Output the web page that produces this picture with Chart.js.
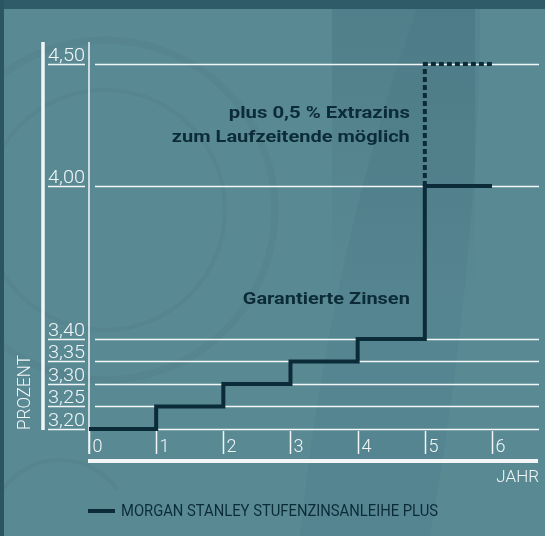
<!DOCTYPE html>
<html>
<head>
<meta charset="utf-8">
<script src="https://cdn.jsdelivr.net/npm/chart.js@4/dist/chart.umd.min.js"></script>
<style>
  html, body { margin: 0; padding: 0; background: #598a94; }
  #wrap { width: 545px; height: 536px; position: relative; }
</style>
</head>
<body>
<div id="wrap"><canvas id="myChart"></canvas></div>
<script>
// data
const years = [0, 1, 2, 3, 4, 5, 6];
const guaranteed = [3.20, 3.25, 3.30, 3.35, 3.40, 4.00, 4.00];
const extraYears = [5, 6];
const extraRate = [4.00, 4.50];
const yTicks = [3.20, 3.25, 3.30, 3.35, 3.40, 4.00, 4.50];
const yTickLabels = ["3,20", "3,25", "3,30", "3,35", "3,40", "4,00", "4,50"];
const xTickLabels = ["0", "1", "2", "3", "4", "5", "6"];
const seriesName = "MORGAN STANLEY STUFENZINSANLEIHE PLUS";

const DARK = "#0c2b39";
const WHITE = "#f2f6f7";

// the original axis is broken: small steps below 3,40 are stretched
function warp(v) {
  if (v <= 3.4) return (v - 3.2) / 0.05;
  if (v <= 4.0) return 4 + (v - 3.4) / 0.6 * 6.8;
  return 10.8 + (v - 4.0) / 0.5 * 5.42;
}

// draw text squeezed/stretched to a given width
function fitText(ctx, text, x, y, width, align) {
  const w = ctx.measureText(text).width;
  const sx = width / w;
  ctx.save();
  ctx.textAlign = "left";
  const left = align === "right" ? x - width : x;
  ctx.translate(left, y);
  ctx.scale(sx, 1);
  ctx.fillText(text, 0, 0);
  ctx.restore();
}

const background = {
  id: "background",
  beforeDraw: (chart) => {
    const { ctx, width, height } = chart;
    ctx.save();
    ctx.fillStyle = "#598a94";
    ctx.fillRect(0, 0, width, height);
    // darker panel on the upper right
    let g = ctx.createLinearGradient(0, 0, 0, 300);
    g.addColorStop(0, "rgba(60,100,115,0.3)");
    g.addColorStop(1, "rgba(60,100,115,0)");
    ctx.fillStyle = g;
    ctx.fillRect(332, 0, 143, 300);
    // diagonal band
    ctx.beginPath();
    ctx.moveTo(420, 0);
    ctx.quadraticCurveTo(330, 250, 300, 536);
    ctx.lineTo(430, 536);
    ctx.quadraticCurveTo(480, 250, 480, 0);
    ctx.closePath();
    ctx.fillStyle = "rgba(60,100,115,0.12)";
    ctx.fill();
    // faint circles on the left
    ctx.strokeStyle = "rgba(45,80,92,0.08)";
    ctx.lineWidth = 7;
    ctx.beginPath();
    ctx.arc(105, 210, 170, 0, Math.PI * 2);
    ctx.stroke();
    ctx.lineWidth = 4;
    ctx.beginPath();
    ctx.arc(105, 210, 120, 0, Math.PI * 2);
    ctx.stroke();
    ctx.beginPath();
    ctx.arc(60, 530, 70, Math.PI, Math.PI * 1.8);
    ctx.stroke();
    // top band and left strip
    ctx.fillStyle = "#2f5b69";
    ctx.fillRect(0, 0, width, 9);
    ctx.fillStyle = "#2c5563";
    ctx.fillRect(0, 0, 4, height);
    ctx.restore();
  },
};

const axes = {
  id: "axes",
  beforeDatasetsDraw: (chart) => {
    const { ctx, chartArea } = chart;
    const xs = chart.scales.x;
    const ys = chart.scales.y;
    const left = chartArea.left;
    ctx.save();
    // horizontal grid lines + underlined tick labels
    ctx.strokeStyle = WHITE;
    ctx.fillStyle = WHITE;
    ctx.font = "300 18px Roboto";
    ctx.textBaseline = "alphabetic";
    yTicks.forEach((v, i) => {
      const py = Math.round(ys.getPixelForValue(warp(v))) + 0.5;
      ctx.lineWidth = 1.5;
      ctx.beginPath();
      ctx.moveTo(left + 6, py);
      ctx.lineTo(chartArea.right, py);
      ctx.moveTo(left - 41, py);
      ctx.lineTo(left - 4, py);
      ctx.stroke();
      fitText(ctx, yTickLabels[i], left - 41, py - 4, 37, "left");
    });
    // thick left bar
    ctx.lineWidth = 3.5;
    ctx.beginPath();
    ctx.moveTo(left - 46, chartArea.top);
    ctx.lineTo(left - 46, ys.getPixelForValue(warp(3.2)) + 1);
    ctx.stroke();
    // thin y axis line
    ctx.lineWidth = 1.5;
    ctx.beginPath();
    ctx.moveTo(left, chartArea.top);
    ctx.lineTo(left, chartArea.bottom - 6);
    ctx.stroke();
    // x ticks and labels
    const base = ys.getPixelForValue(warp(3.2));
    ctx.textBaseline = "middle";
    years.forEach((yr, i) => {
      const px = Math.round(xs.getPixelForValue(yr)) + 0.5;
      ctx.beginPath();
      ctx.moveTo(px, base + 2);
      ctx.lineTo(px, base + 25);
      ctx.stroke();
      ctx.fillText(xTickLabels[i], px + 3, base + 19);
    });
    // thick x axis
    ctx.lineWidth = 4;
    ctx.beginPath();
    ctx.moveTo(left - 1, chartArea.bottom + 1);
    ctx.lineTo(chartArea.right - 1, chartArea.bottom + 1);
    ctx.stroke();
    ctx.font = "300 17px Roboto";
    ctx.textAlign = "right";
    ctx.fillText("JAHR", chartArea.right, chartArea.bottom + 18);
    // y title
    ctx.save();
    ctx.translate(25, 392);
    ctx.rotate(-Math.PI / 2);
    ctx.font = "300 18px Roboto";
    fitText(ctx, "PROZENT", 37, 0, 75, "right");
    ctx.restore();
    ctx.restore();
  },
  afterDraw: (chart) => {
    const { ctx, chartArea } = chart;
    const xs = chart.scales.x;
    ctx.save();
    ctx.fillStyle = DARK;
    ctx.textBaseline = "middle";
    ctx.font = "700 17px Roboto";
    const rx = xs.getPixelForValue(5) - 15;
    fitText(ctx, "plus 0,5 % Extrazins", rx, 114, 181, "right");
    fitText(ctx, "zum Laufzeitende möglich", rx, 138, 238, "right");
    fitText(ctx, "Garantierte Zinsen", rx, 300, 167, "right");
    // legend
    const ly = chartArea.bottom + 51;
    ctx.strokeStyle = DARK;
    ctx.lineWidth = 4;
    ctx.beginPath();
    ctx.moveTo(chartArea.left - 1, ly);
    ctx.lineTo(chartArea.left + 26, ly);
    ctx.stroke();
    ctx.font = "400 16px Roboto";
    fitText(ctx, seriesName, chartArea.left + 32, ly + 1, 317, "left");
    ctx.restore();
  },
};

const ctx = document.getElementById("myChart");
new Chart(ctx, {
  type: "line",
  data: {
    datasets: [
      {
        label: seriesName,
        data: years.map((x, i) => ({ x: x, y: warp(guaranteed[i]) })),
        borderColor: DARK,
        borderWidth: 4,
        stepped: "before",
        pointRadius: 0,
        borderJoinStyle: "miter",
        borderCapStyle: "butt",
        fill: false,
      },
      {
        label: "Extrazins",
        data: extraYears.map((x, i) => ({ x: x, y: warp(extraRate[i]) })),
        borderColor: DARK,
        borderWidth: 4,
        borderDash: [5, 3],
        stepped: "after",
        pointRadius: 0,
        borderCapStyle: "butt",
        fill: false,
      },
    ],
  },
  options: {
    responsive: true,
    maintainAspectRatio: false,
    animation: false,
    layout: { padding: { left: 89, right: 6, top: 42, bottom: 76 } },
    scales: {
      x: { type: "linear", min: 0, max: 6.7, display: false },
      y: { type: "linear", min: -1.38, max: 17.2, display: false },
    },
    plugins: {
      legend: { display: false },
      tooltip: { enabled: false },
    },
  },
  plugins: [background, axes],
});
</script>
</body>
</html>
